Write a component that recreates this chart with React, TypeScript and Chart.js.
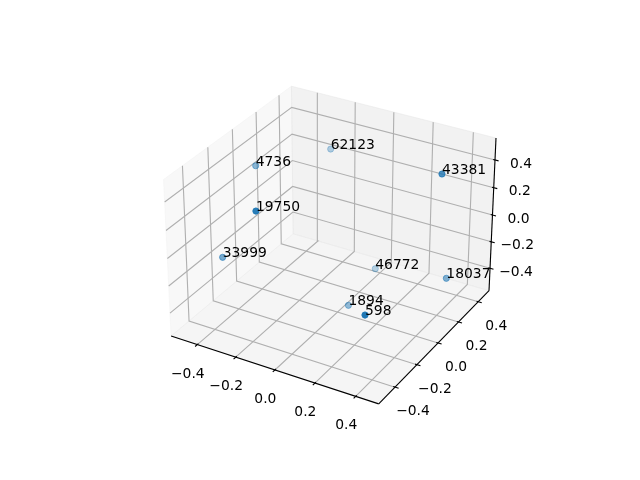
import React, { useEffect, useRef } from "react";
import { Chart, registerables } from "chart.js";

Chart.register(...registerables);

const labels = ["62123", "4736", "43381", "19750", "33999", "46772", "18037", "1894", "598"];
const xValues = [-0.2547, -0.4361, 0.4126, -0.1952, -0.3897, 0.0376, 0.4645, 0.078, 0.339];
const yValues = [0.3817, 0.025, 0.1861, -0.3611, -0.3358, 0.2844, 0.1567, -0.0379, -0.3581];
const zValues = [0.2758, 0.317, 0.4762, 0.3484, -0.0805, -0.4389, -0.2321, -0.4562, -0.1628];
const pointAlphas = [0.32, 0.5, 0.8, 0.95, 0.6, 0.3, 0.55, 0.47, 1.0];
const tickValues = [-0.4, -0.2, 0.0, 0.2, 0.4];
const tickLabels = ["\u22120.4", "\u22120.2", "0.0", "0.2", "0.4"];

const xLimits = [-0.5387, 0.5112];
const yLimits = [-0.5443, 0.5112];
const zLimits = [-0.5719, 0.5561];
const LIMS = [xLimits, yLimits, zLimits];
const BOX = [1.1905, 1.1905, 0.8929];
const U = [0.8660254, 0.5, 0];
const V = [-0.25, 0.4330127, 0.8660254];
const W = [0.4330127, -0.75, 0.5];
const DIST = 10;
const FONT = '13.89px "DejaVu Sans"';

type P3 = [number, number, number];
const dot = (a: number[], b: number[]) => a[0] * b[0] + a[1] * b[1] + a[2] * b[2];
const rel = (p: P3) => p.map((v, i) => ((v - LIMS[i][0]) / (LIMS[i][1] - LIMS[i][0]) - 0.5) * BOX[i]);
const depth = (p: P3) => dot(rel(p), W);
const project = (p: P3) => {
  const d = rel(p);
  const k = DIST - dot(d, W);
  return { x: dot(d, U) / k, y: dot(d, V) / k };
};

const [x0, x1] = xLimits;
const [y0, y1] = yLimits;
const [z0, z1] = zLimits;
const xDelta = (x1 - x0) / 12;
const yDelta = (y1 - y0) / 12;

const line = (pts: P3[], color: string, width: number) => ({
  type: "scatter" as const,
  showLine: true,
  data: pts.map(project),
  borderColor: color,
  borderWidth: width,
  pointRadius: 0,
  fill: false as any,
  clip: false as any,
});

const pane = (pts: P3[], color: string) => ({
  ...line(pts, color, 1),
  fill: "shape" as any,
  backgroundColor: color,
});

const GRID = "#b0b0b0";
const BLACK = "#000000";

function buildDatasets() {
  const ds: any[] = [];
  ds.push(pane([[x0, y0, z0], [x0, y1, z0], [x0, y1, z1], [x0, y0, z1], [x0, y0, z0]], "rgba(242,242,242,0.5)"));
  ds.push(pane([[x0, y1, z0], [x1, y1, z0], [x1, y1, z1], [x0, y1, z1], [x0, y1, z0]], "rgba(230,230,230,0.5)"));
  ds.push(pane([[x0, y0, z0], [x1, y0, z0], [x1, y1, z0], [x0, y1, z0], [x0, y0, z0]], "rgba(236,236,236,0.5)"));

  tickValues.forEach((t) => {
    ds.push(line([[t, y0, z0], [t, y1, z0], [t, y1, z1]], GRID, 1.11));
    ds.push(line([[x1, t, z0], [x0, t, z0], [x0, t, z1]], GRID, 1.11));
    ds.push(line([[x0, y0, t], [x0, y1, t], [x1, y1, t]], GRID, 1.11));
  });

  ds.push(line([[x0, y0, z0], [x1, y0, z0]], BLACK, 1.11));
  ds.push(line([[x1, y0, z0], [x1, y1, z0]], BLACK, 1.11));
  ds.push(line([[x1, y1, z0], [x1, y1, z1]], BLACK, 1.11));

  tickValues.forEach((t) => {
    ds.push(line([[t, y0 - 0.2 * yDelta, z0], [t, y0 + 0.1 * yDelta, z0]], BLACK, 1.11));
    ds.push(line([[x1 + 0.2 * xDelta, t, z0], [x1 - 0.1 * xDelta, t, z0]], BLACK, 1.11));
    ds.push(line([[x1 + 0.2 * xDelta, y1, t], [x1 - 0.1 * xDelta, y1, t]], BLACK, 1.11));
  });

  const sorted = labels
    .map((_, i) => {
      const p: P3 = [xValues[i], yValues[i], zValues[i]];
      return { p, d: depth(p), a: pointAlphas[i] };
    })
    .sort((a, b) => a.d - b.d);
  const colors = sorted.map(({ a }) => `rgba(31,119,180,${a})`);
  ds.push({
    type: "scatter",
    data: sorted.map(({ p }) => project(p)),
    backgroundColor: colors,
    borderColor: colors,
    borderWidth: 1,
    pointRadius: 3.1,
    clip: false,
  });
  ds.forEach((d, i) => (d.order = -i));
  return ds;
}

const textPlugin = {
  id: "text3d",
  afterDatasetsDraw(chart: any) {
    const { ctx, scales } = chart;
    const px = (p: P3) => {
      const q = project(p);
      return [scales.x.getPixelForValue(q.x), scales.y.getPixelForValue(q.y)];
    };
    ctx.save();
    ctx.font = FONT;
    ctx.fillStyle = "#000000";
    ctx.textAlign = "left";
    ctx.textBaseline = "alphabetic";
    labels.forEach((s, i) => {
      const [a, b] = px([xValues[i], yValues[i], zValues[i]]);
      ctx.fillText(s, a, b);
    });
    ctx.textAlign = "center";
    ctx.textBaseline = "middle";
    tickValues.forEach((t, i) => {
      const s = tickLabels[i];
      let [a, b] = px([t, y0, z0]);
      ctx.fillText(s, a - 9.5, b + 29.5);
      [a, b] = px([x1, t, z0]);
      ctx.fillText(s, a + 18, b + 24.5);
      [a, b] = px([x1, y1, t]);
      ctx.fillText(s, a + 26, b + 4);
    });
    ctx.restore();
  },
};

export default function App() {
  const ref = useRef<HTMLCanvasElement>(null);
  useEffect(() => {
    const chart = new Chart(ref.current as HTMLCanvasElement, {
      type: "scatter",
      data: { datasets: buildDatasets() },
      options: {
        animation: false,
        responsive: false,
        events: [],
        layout: { padding: { left: 143.2, right: 127.2, top: 57.6, bottom: 52.8 } },
        plugins: { legend: { display: false }, tooltip: { enabled: false }, title: { display: false } },
        scales: {
          x: { type: "linear", display: false, min: -0.095, max: 0.09 },
          y: { type: "linear", display: false, min: -0.095, max: 0.09 },
        },
      },
      plugins: [textPlugin],
    } as any);
    return () => chart.destroy();
  }, []);
  return (
    <div style={{ position: "absolute", left: 0, top: 0, width: 640, height: 480, background: "#fff" }}>
      <canvas ref={ref} width={640} height={480} style={{ display: "block" }} />
    </div>
  );
}
